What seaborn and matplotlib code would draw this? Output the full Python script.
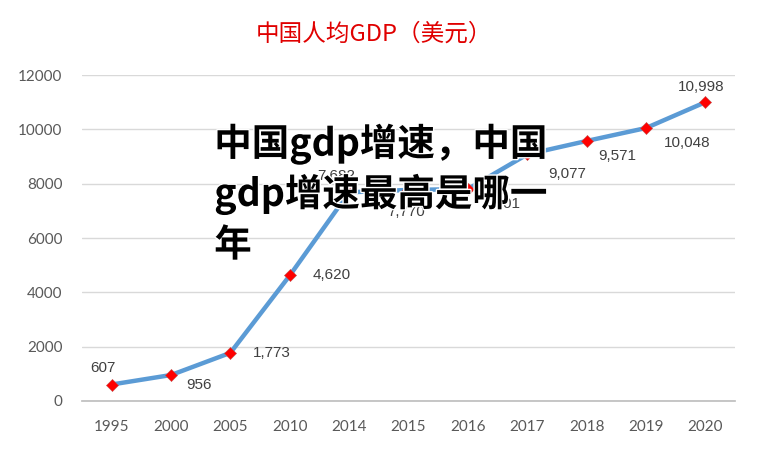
"""
中国人均GDP（美元） — line chart with data labels and overlay headline
"""

import pandas as pd
import matplotlib.pyplot as plt
import matplotlib.patheffects as pe
import seaborn as sns

# ── Data ───────────────────────────────────────────────────────────────────────
years = ['1995', '2000', '2005', '2010', '2014', '2015',
         '2016', '2017', '2018', '2019', '2020']
gdp_per_capita = [607, 956, 1773, 4620, 7682, 7770,
                  7801, 9077, 9571, 10048, 10998]
y_ticks = [0, 2000, 4000, 6000, 8000, 10000, 12000]

title = '中国人均GDP（美元）'
headline = ['中国gdp增速，中国', 'gdp增速最高是哪一', '年']

# label offsets in points (dx, dy), mimicking the Excel placement
label_offsets = [(-6, 12), (20, -7), (30, 0), (30, 0), (-9, 12), (-2, -16),
                 (24, -11), (29, -14), (22, -11), (30, -11), (-3, 11)]

df = pd.DataFrame({'year': years, 'gdp': gdp_per_capita})

# ── Plot ───────────────────────────────────────────────────────────────────────
sns.set_theme(style='white')
plt.rcParams['font.family'] = ['Noto Sans CJK SC', 'DejaVu Sans']

fig = plt.figure(figsize=(7.57, 4.5), dpi=100)
ax = fig.add_axes([0.1083, 0.1089, 0.8626, 0.7244])

sns.lineplot(data=df, x='year', y='gdp', color='#5B9BD5', linewidth=3.2,
             sort=False, ax=ax, zorder=2)
sns.scatterplot(data=df, x='year', y='gdp', marker='D', s=38, color='#FF0000',
                edgecolor='#C0504D', linewidth=0.4, ax=ax, zorder=3)

for i, (yr, val) in enumerate(zip(years, gdp_per_capita)):
    dx, dy = label_offsets[i]
    ax.annotate(f'{val:,}', (i, val), xytext=(dx, dy), textcoords='offset points',
                ha='center', va='center', fontsize=11, color='#404040',
                family='Liberation Sans', zorder=4)

ax.set_ylim(0, 12000)
ax.set_xlim(-0.5, len(years) - 0.5)
ax.set_yticks(y_ticks)
ax.yaxis.grid(True, color='#D9D9D9', linewidth=1)
ax.set_axisbelow(True)
for side in ['top', 'right', 'left']:
    ax.spines[side].set_visible(False)
ax.spines['bottom'].set_color('#BFBFBF')
ax.tick_params(axis='both', length=0, labelsize=11, labelcolor='#595959')
ax.tick_params(axis='y', pad=14)
ax.tick_params(axis='x', pad=14)
for lbl in ax.get_xticklabels() + ax.get_yticklabels():
    lbl.set_family('Lato')
ax.set_xlabel('')
ax.set_ylabel('')

fig.text(0.494, 0.925, title, ha='center', va='center', fontsize=17,
         color='#E00000')

# overlay headline
for k, line in enumerate(headline):
    t = fig.text(0.283, 0.68 - k * 0.112, line, ha='left', va='center',
                 fontsize=27, fontweight='black', color='black', zorder=10)
    t.set_path_effects([pe.withStroke(linewidth=2, foreground='white')])

fig.savefig('out.png', dpi=100)
